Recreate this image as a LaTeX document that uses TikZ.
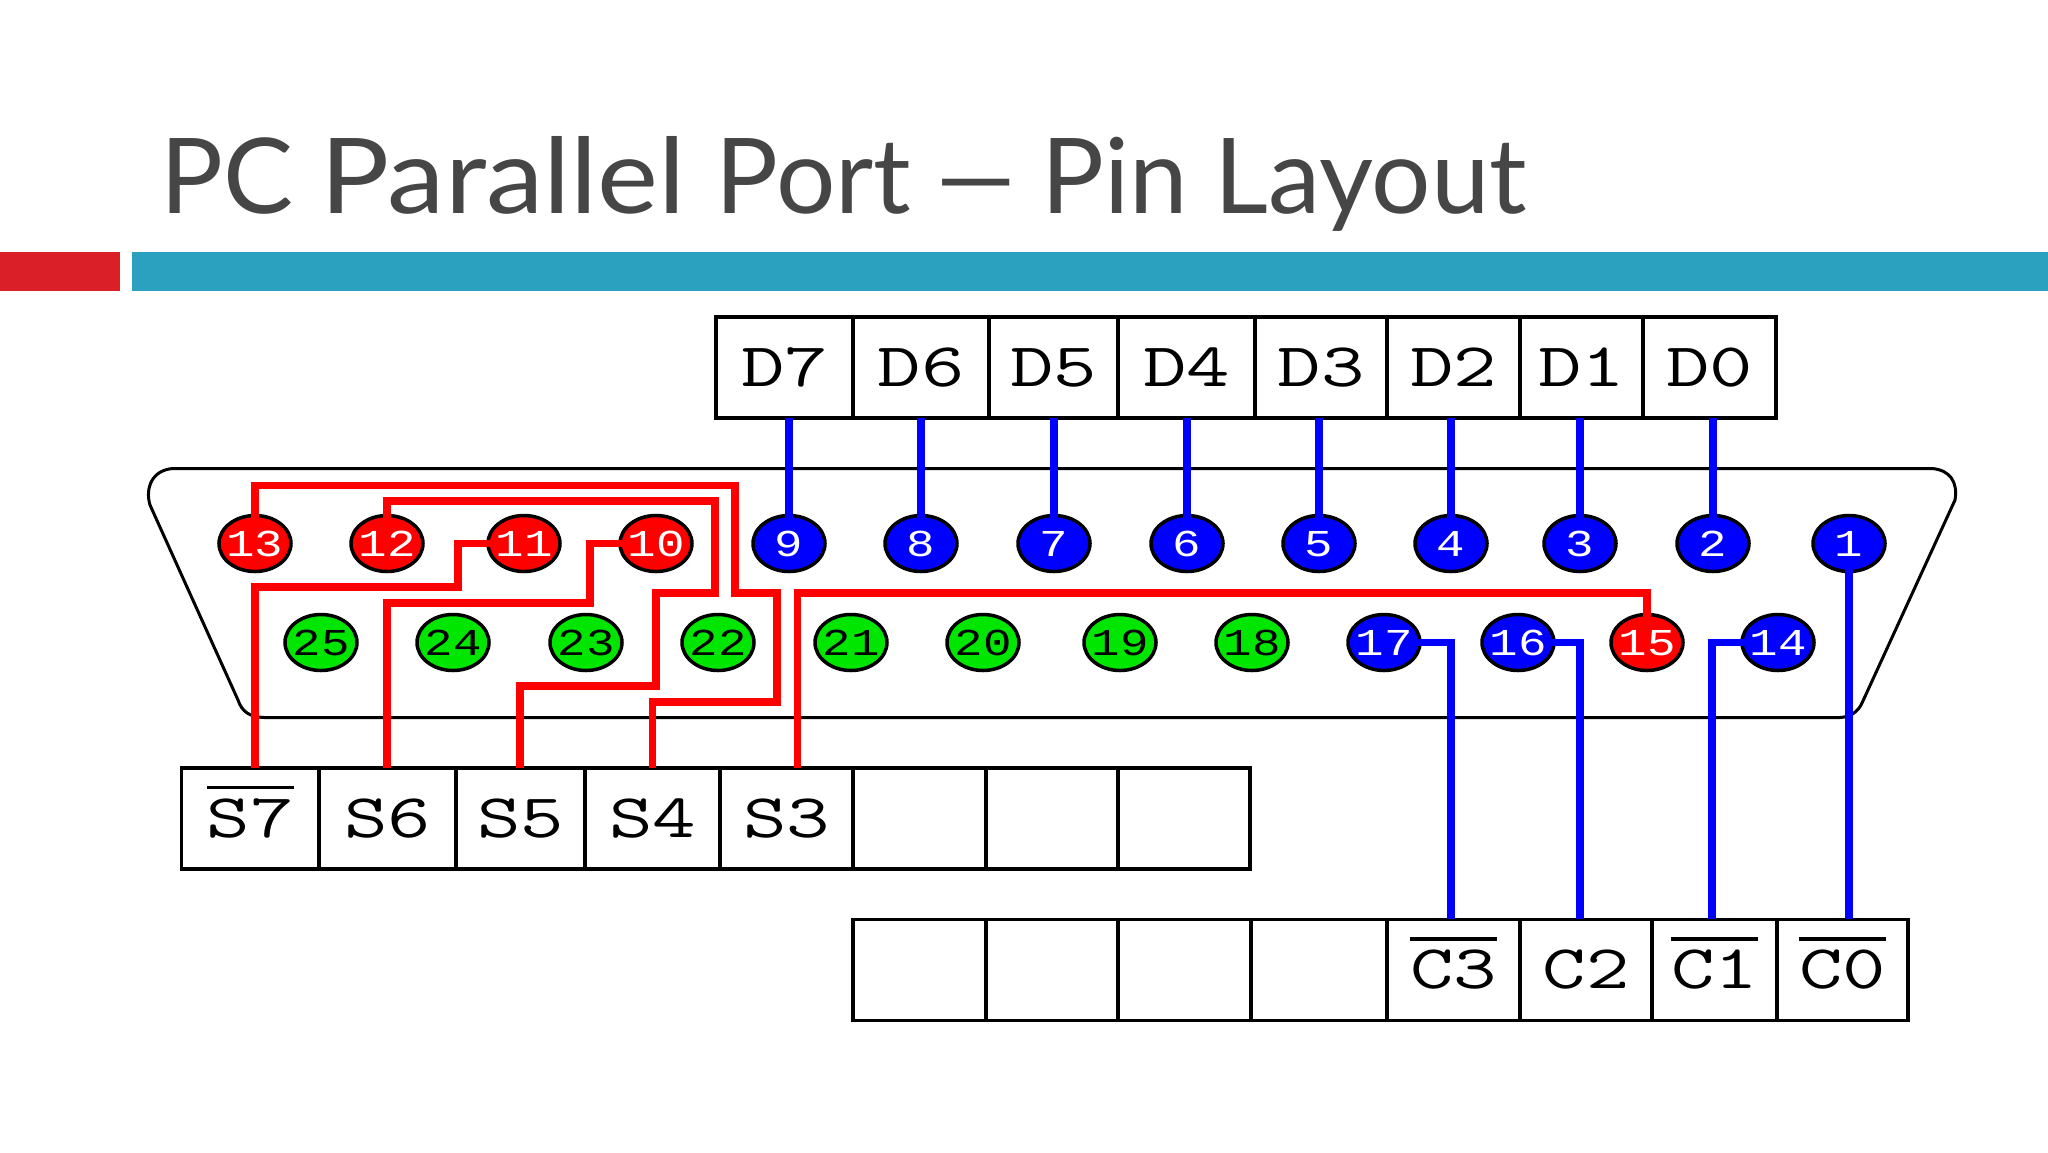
\documentclass[tikz,border=0pt]{standalone}
\usepackage{fontspec}
\setmainfont{Lato}
\newfontfamily\monof{Liberation Mono}
\usetikzlibrary{shapes.geometric}
\definecolor{titlegray}{HTML}{464646}
\definecolor{barred}{HTML}{DA1F28}
\definecolor{barteal}{HTML}{2CA1BF}
\definecolor{pinr}{HTML}{FF0000}
\definecolor{pinb}{HTML}{0000FF}
\definecolor{ping}{HTML}{00E600}
\newsavebox{\lbbox}
\newcommand{\celltxt}[1]{\scalebox{1.36}[1]{\ttfamily\fontsize{62}{64}\selectfont #1}}
\newcommand{\pintxt}[1]{\makebox[0pt]{\smash{\raisebox{-12.5pt}{\scalebox{1.25}[1]{\monof\fontsize{38}{40}\selectfont #1}}}}}
\newcommand{\ovl}[1]{\sbox{\lbbox}{\celltxt{#1}}\rlap{\smash{\raisebox{48pt}{\rule{\wd\lbbox}{3.5pt}}}}\usebox{\lbbox}}
\tikzset{
  x=1pt,y=-1pt,
  cellbox/.style={draw=black,line width=3.5pt,inner sep=0pt,outer sep=0pt,text=black},
  pinbase/.style={ellipse,draw=black,line width=3.5pt,inner sep=0pt,outer sep=0pt,minimum width=72pt,minimum height=56pt},
  pinred/.style={pinbase,fill=pinr,text=white},
  pinblue/.style={pinbase,fill=pinb,text=white},
  pingreen/.style={pinbase,fill=ping,text=black},
  wire/.style={line width=7.5pt,miter limit=10,shorten <=-3pt},
  redwire/.style={wire,draw=pinr},
  bluewire/.style={wire,draw=pinb},
  shell/.style={draw=black,line width=3pt}
}
\begin{document}
\begin{tikzpicture}
\useasboundingbox (0,0) rectangle (2048,1152);
\fill[white] (0,0) rectangle (2048,1152);
% title and bars
\node[anchor=base west,inner sep=0pt,text=titlegray] (title) at (160,213) {\resizebox{1366pt}{77pt}{PC \scalebox{1.1}[1]{Parallel}\hspace{0.03em} Port\hspace{-0.1em} \scalebox{1.6}[1]{–}\hspace{-0.1em} Pin Layout}};
\fill[barred] (0,252) rectangle (120,291);
\fill[barteal] (132,252) rectangle (2048,291);
% connector shell
\draw[shell] (173,468.5) -- (1932,468.5) .. controls (1950,470) and (1958,482) .. (1955,500) -- (1862,703) .. controls (1858,712) and (1850,717) .. (1840,717.5) -- (264,717.5) .. controls (250,717) and (242,712) .. (238,700) -- (150,505) .. controls (145,488) and (152,470) .. (173,468.5);
% register cells
\foreach \n/\xa/\xb/\t in {d7/716/853/D7,d6/853/989/D6,d5/989/1118/D5,d4/1118/1255/D4,d3/1255/1387/D3,d2/1387/1520/D2,d1/1520/1643/D1,d0/1643/1776/D0}
  \node[cellbox,minimum width=\xb-\xa,minimum height=101pt] (\n) at ({(\xa+\xb)/2},367.5) {\celltxt{\t}};
\node[cellbox,minimum width=137.5pt,minimum height=101pt] (s7) at (250.25,818.25) {\ovl{S7}};
\foreach \n/\xa/\xb/\t in {s6/319/456/S6,s5/456/585/S5,s4/585/720/S4,s3/720/853/S3,sx/853/986/,sy/986/1118/,sz/1118/1250/}
  \node[cellbox,minimum width=\xb-\xa,minimum height=101pt] (\n) at ({(\xa+\xb)/2},818.25) {\celltxt{\t}};
\foreach \n/\xa/\xb in {ca/853/986,cb/986/1118,cc/1118/1251,cd/1251/1387}
  \node[cellbox,minimum width=\xb-\xa,minimum height=101pt] (\n) at ({(\xa+\xb)/2},969.75) {};
\node[cellbox,minimum width=133pt,minimum height=101pt] (c3) at (1453.5,969.75) {\ovl{C3}};
\node[cellbox,minimum width=132pt,minimum height=101pt] (c2) at (1586,969.75) {\celltxt{C2}};
\node[cellbox,minimum width=125pt,minimum height=101pt] (c1) at (1714.5,969.75) {\ovl{C1}};
\node[cellbox,minimum width=131pt,minimum height=101pt] (c0) at (1842.5,969.75) {\ovl{C0}};
% pins
\foreach \n/\x/\s in {13/255/pinred,12/387/pinred,11/524/pinred,10/656/pinred,9/789/pinblue,8/921/pinblue,7/1054/pinblue,6/1187/pinblue,5/1319/pinblue,4/1451/pinblue,3/1580/pinblue,2/1713/pinblue,1/1849/pinblue}
  \node[\s] (p\n) at (\x,543.5) {\pintxt{\n}};
\foreach \n/\x/\s in {25/321/pingreen,24/453/pingreen,23/586/pingreen,22/718/pingreen,21/851/pingreen,20/983/pingreen,19/1120/pingreen,18/1252/pingreen,17/1384/pinblue,16/1518/pinblue,15/1647/pinred,14/1778/pinblue}
  \node[\s] (p\n) at (\x,642.5) {\pintxt{\n}};
% data wires
\foreach \p/\c in {9/d7,8/d6,7/d5,6/d4,5/d3,4/d2,3/d1,2/d0}
  \draw[bluewire] (p\p.north) -- (p\p.north |- \c.south);
% control wires
\coordinate (w17) at (1451,642.5);
\coordinate (w16) at (1580,642.5);
\coordinate (w14) at (1712,642.5);
\draw[bluewire] (p17.east) -- (w17) -- (w17 |- c3.north);
\draw[bluewire] (p16.east) -- (w16) -- (w16 |- c2.north);
\draw[bluewire] (p14.west) -- (w14) -- (w14 |- c1.north);
\draw[bluewire] (p1.south) -- (p1.south |- c0.north);
% status wires
\coordinate (a1) at (735,485.5);
\coordinate (a2) at (735,593);
\coordinate (a3) at (777,593);
\coordinate (a4) at (777,702);
\coordinate (a5) at (652.5,702);
\draw[redwire] (p13.north) |- (a1) -- (a2) -- (a3) -- (a4) -- (a5) -- (a5 |- s4.north);
\coordinate (b1) at (715,501);
\coordinate (b2) at (715,593);
\coordinate (b3) at (656,593);
\coordinate (b4) at (656,686);
\coordinate (b5) at (520,686);
\draw[redwire] (p12.north) |- (b1) -- (b2) -- (b3) -- (b4) -- (b5) -- (b5 |- s5.north);
\coordinate (e1) at (458,543.5);
\coordinate (e2) at (458,587);
\coordinate (e3) at (255,587);
\draw[redwire] (p11.west) -- (e1) -- (e2) -- (e3) -- (e3 |- s7.north);
\coordinate (f1) at (590,543.5);
\coordinate (f2) at (590,603);
\coordinate (f3) at (387,603);
\draw[redwire] (p10.west) -- (f1) -- (f2) -- (f3) -- (f3 |- s6.north);
\coordinate (g1) at (797.5,593);
\draw[redwire] (p15.north) |- (g1) -- (g1 |- s3.north);
\end{tikzpicture}
\end{document}
